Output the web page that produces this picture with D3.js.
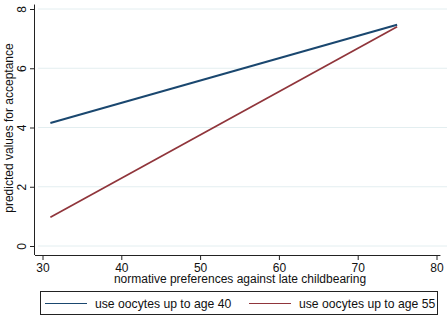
<!DOCTYPE html>
<html>
<head>
<meta charset="utf-8">
<script src="https://cdn.jsdelivr.net/npm/d3@7"></script>
<style>
  body { margin: 0; background: #fff; }
  svg text { font-family: "Liberation Sans", Arial, sans-serif; fill: #111; }
</style>
</head>
<body>
<div id="mainbox"></div>
<script>
// data
const seriesNames = ['use oocytes up to age 40', 'use oocytes up to age 55'];
const seriesColors = ['#1a476f', '#90353b'];
const xValues = [31, 75];
const age40 = [4.15, 7.47];
const age55 = [0.97, 7.4];
const xTicks = [30, 40, 50, 60, 70, 80];
const yTicks = [0, 2, 4, 6, 8];

const W = 447, H = 317;
const svg = d3.select('#mainbox').append('svg')
  .attr('width', W).attr('height', H);

const scaleX = d3.scaleLinear().domain([30, 80]).range([42.5, 436.5]);
const scaleY = d3.scaleLinear().domain([0, 8]).range([246, 9]);

const axisLeftX = 35, axisBottomY = 255;

// gridlines
svg.append('g').selectAll('line').data(yTicks).enter()
  .append('line')
  .attr('x1', axisLeftX + 3).attr('x2', W)
  .attr('y1', d => scaleY(d)).attr('y2', d => scaleY(d))
  .attr('stroke', '#e3eef0').attr('stroke-width', 1);

// y axis
const axisY = d3.axisLeft(scaleY).tickValues(yTicks).tickSize(5).tickFormat(d3.format('d'));
const gy = svg.append('g').attr('transform', `translate(${axisLeftX},0)`).call(axisY);
gy.select('.domain').attr('d', `M-0.5,${scaleY(8.15)}V${axisBottomY}`).attr('stroke', '#222');
gy.selectAll('.tick line').attr('stroke', '#222');
gy.selectAll('.tick text')
  .attr('transform', 'rotate(-90)')
  .attr('x', 0).attr('y', -9)
  .attr('dy', 0)
  .attr('text-anchor', 'middle')
  .style('font-size', '12px');

// x axis
const axisX = d3.axisBottom(scaleX).tickValues(xTicks).tickSize(5).tickFormat(d3.format('d'));
const gx = svg.append('g').attr('transform', `translate(0,${axisBottomY})`).call(axisX);
gx.select('.domain').attr('d', `M${axisLeftX},0.5H${scaleX(80.5)}`).attr('stroke', '#222');
gx.selectAll('.tick line').attr('stroke', '#222');
gx.selectAll('.tick text').attr('y', 8).attr('dy', '0.75em').style('font-size', '12px');

// axis titles
svg.append('text')
  .attr('x', 240).attr('y', 283)
  .attr('text-anchor', 'middle')
  .style('font-size', '12px')
  .text('normative preferences against late childbearing');

svg.append('text')
  .attr('transform', 'translate(13,128) rotate(-90)')
  .attr('text-anchor', 'middle')
  .style('font-size', '12px')
  .text('predicted values for acceptance');

// lines
const line = d3.line().x(d => scaleX(d[0])).y(d => scaleY(d[1]));
[age40, age55].forEach((vals, i) => {
  svg.append('path')
    .datum(xValues.map((x, j) => [x, vals[j]]))
    .attr('d', line)
    .attr('fill', 'none')
    .attr('stroke', seriesColors[i])
    .attr('stroke-width', i === 0 ? 2 : 1.7);
});

// legend
const legend = svg.append('g');
legend.append('rect')
  .attr('x', 40.5).attr('y', 291.5).attr('width', 397).attr('height', 23)
  .attr('fill', '#fff').attr('stroke', '#222').attr('stroke-width', 1);
const legX = [45, 249];
seriesNames.forEach((name, i) => {
  legend.append('line')
    .attr('x1', legX[i]).attr('x2', legX[i] + 42)
    .attr('y1', 303.5).attr('y2', 303.5)
    .attr('stroke', seriesColors[i]).attr('stroke-width', 1.2);
  legend.append('text')
    .attr('x', legX[i] + 50).attr('y', 308)
    .style('font-size', '12.2px')
    .text(name);
});
</script>
</body>
</html>
